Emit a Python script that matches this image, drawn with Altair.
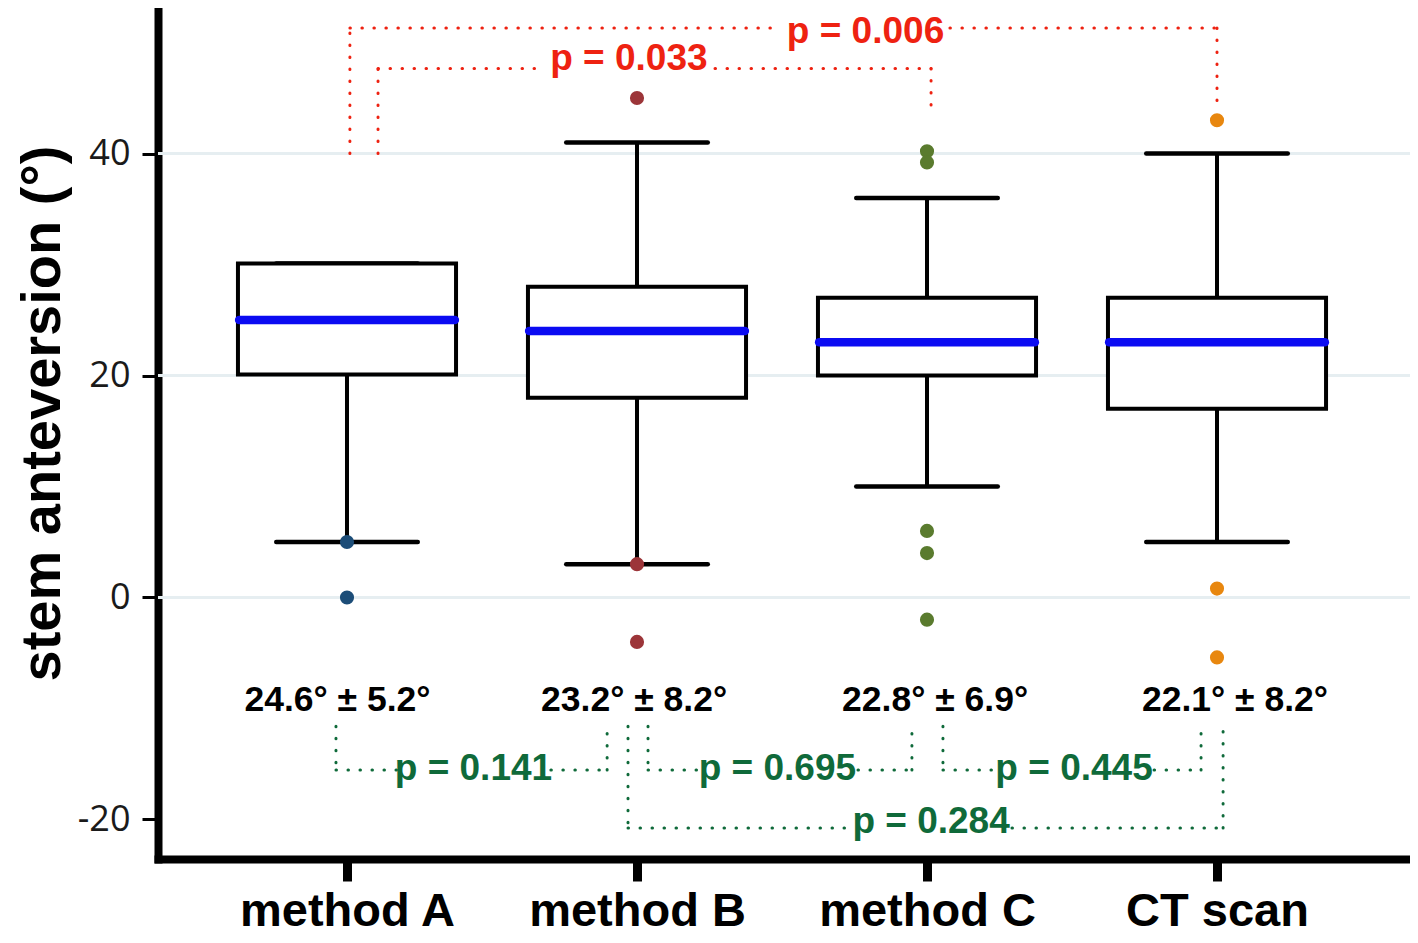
import altair as alt
import pandas as pd

# ---------------- data ----------------
categories = ["method A", "method B", "method C", "CT scan"]
positions = [1, 2, 3, 4]
q1 = [20.1, 18.0, 20.0, 17.0]
median = [25.0, 24.0, 23.0, 23.0]
q3 = [30.1, 28.0, 27.0, 27.0]
whisker_low = [5.0, 3.0, 10.0, 5.0]
whisker_high = [30.1, 41.0, 36.0, 40.0]
outlier_colors = ["#1c4d78", "#9c3539", "#5a7b2e", "#e8870f"]
outliers_a = [5.0, 0.0]
outliers_b = [45.0, 3.0, -4.0]
outliers_c = [40.2, 39.2, 6.0, 4.0, -2.0]
outliers_ct = [43.0, 0.8, -5.4]
mean_labels = ["24.6° ± 5.2°", "23.2° ± 8.2°", "22.8° ± 6.9°", "22.1° ± 8.2°"]
mean_label_x = [0.967, 1.990, 3.028, 4.062]
mean_label_y = [-10.2, -10.2, -10.2, -10.2]
grid_values = [0, 20, 40]
y_ticks = [-20, 0, 20, 40]

# significance brackets
p_labels = ["p = 0.006", "p = 0.033", "p = 0.141", "p = 0.695", "p = 0.445", "p = 0.284"]
p_colors = ["#ee2211", "#ee2211", "#0f6a3a", "#0f6a3a", "#0f6a3a", "#0f6a3a"]
bracket_left_x = [1.010, 1.107, 0.962, 2.038, 3.055, 1.969]
bracket_right_x = [4.000, 3.014, 1.897, 2.948, 3.945, 4.021]
bracket_left_y = [40.0, 40.0, -11.6, -11.6, -11.6, -11.6]
bracket_right_y = [43.9, 43.5, -11.6, -11.6, -11.6, -11.2]
bracket_bar_y = [51.3, 47.65, -15.55, -15.55, -15.55, -20.76]
gap_start = [2.493, 1.666, 1.172, 2.224, 3.224, 2.724]
gap_end = [3.079, 2.269, 1.703, 2.762, 3.783, 3.293]
p_text_x = [2.788, 1.972, 1.436, 2.484, 3.507, 3.014]
p_text_y = [50.0, 47.52, -16.44, -16.44, -16.44, -21.2]

# ---------------- tables ----------------
BOX_HALF = 0.376
MED_HALF = 0.372
CAP_HALF = 0.244

boxes = pd.DataFrame({
    "pos": positions, "q1": q1, "med": median, "q3": q3,
    "lo": whisker_low, "hi": whisker_high,
})
boxes["bx1"] = boxes["pos"] - BOX_HALF
boxes["bx2"] = boxes["pos"] + BOX_HALF
boxes["mx1"] = boxes["pos"] - MED_HALF
boxes["mx2"] = boxes["pos"] + MED_HALF
boxes["cx1"] = boxes["pos"] - CAP_HALF
boxes["cx2"] = boxes["pos"] + CAP_HALF

caps = pd.concat([
    boxes[["cx1", "cx2"]].assign(y=boxes["lo"]),
    boxes[["cx1", "cx2"]].assign(y=boxes["hi"]),
])

out_rows = []
for pos, col, vals in zip(positions, outlier_colors,
                          [outliers_a, outliers_b, outliers_c, outliers_ct]):
    for v in vals:
        out_rows.append({"pos": pos, "y": v, "color": col})
outliers = pd.DataFrame(out_rows)

seg_rows = []
for i in range(len(p_labels)):
    c = p_colors[i]
    lx, rx, by = bracket_left_x[i], bracket_right_x[i], bracket_bar_y[i]
    seg_rows += [
        {"x": lx, "x2": lx, "y": bracket_left_y[i], "y2": by, "color": c},
        {"x": lx, "x2": gap_start[i], "y": by, "y2": by, "color": c},
        {"x": gap_end[i], "x2": rx, "y": by, "y2": by, "color": c},
        {"x": rx, "x2": rx, "y": by, "y2": bracket_right_y[i], "color": c},
    ]
segments = pd.DataFrame(seg_rows)

ptext = pd.DataFrame({"x": p_text_x, "y": p_text_y, "label": p_labels, "color": p_colors})
mtext = pd.DataFrame({"x": mean_label_x, "y": mean_label_y, "label": mean_labels})
grid = pd.DataFrame({"y": grid_values})

# ---------------- scales / axes ----------------
xscale = alt.Scale(domain=[0.3483, 4.6655], nice=False, zero=False)
yscale = alt.Scale(domain=[-23.56, 53.11], nice=False, zero=False)

label_expr = "[" + ",".join("'%s'" % c for c in categories) + "][datum.value - 1]"

x_axis = alt.Axis(
    values=positions, labelExpr=label_expr, title=None, grid=False,
    domainColor="black", domainWidth=8, domainCap="square",
    tickColor="black", tickWidth=9, tickSize=22,
    labelFont="Liberation Sans", labelFontWeight="bold", labelFontSize=47,
    labelColor="black", labelPadding=7, labelLimit=0,
    labelFlush=False, labelOverlap=False,
)
y_axis = alt.Axis(
    values=y_ticks, labelExpr="'' + datum.value", title="stem anteversion (°)",
    grid=False, domainColor="black", domainWidth=8, domainCap="square",
    tickColor="black", tickWidth=3, tickSize=16,
    labelFont="Open Sans", labelFontSize=36, labelColor="#1a1a1a",
    labelPadding=12, labelFlush=False, labelOverlap=False,
    titleFont="Liberation Sans", titleFontWeight="bold", titleFontSize=56,
    titleColor="black", titleX=-99, titleY=405, titleAngle=270,
    titleAlign="center", titleBaseline="alphabetic", titleLimit=0,
)


def X(field):
    return alt.X(field, scale=xscale, axis=x_axis)


def Y(field):
    return alt.Y(field, scale=yscale, axis=y_axis)


# ---------------- layers ----------------
whisk = alt.Chart(boxes).mark_rule(color="black", strokeWidth=4).encode(
    x=X("pos:Q"), y=Y("lo:Q"), y2="hi:Q",
)

grid_layer = alt.Chart(grid).mark_rule(color="#e6eef1", strokeWidth=3).encode(
    y=Y("y:Q")
)

cap_layer = alt.Chart(caps).mark_rule(color="black", strokeWidth=4.5, strokeCap="round").encode(
    x=X("cx1:Q"), x2="cx2:Q", y=Y("y:Q"),
)

box_layer = alt.Chart(boxes).mark_rect(fill="white", stroke="black", strokeWidth=4).encode(
    x=X("bx1:Q"), x2="bx2:Q", y=Y("q1:Q"), y2="q3:Q",
)

med_layer = alt.Chart(boxes).mark_rule(color="#0b0bf2", strokeWidth=8.5, strokeCap="round").encode(
    x=X("mx1:Q"), x2="mx2:Q", y=Y("med:Q"),
)

out_layer = alt.Chart(outliers).mark_circle(size=200, opacity=1).encode(
    x=X("pos:Q"), y=Y("y:Q"),
    color=alt.Color("color:N", scale=None),
)

seg_layer = alt.Chart(segments).mark_rule(
    strokeWidth=3, strokeDash=[0.5, 11.5], strokeCap="round"
).encode(
    x=X("x:Q"), x2="x2:Q", y=Y("y:Q"), y2="y2:Q",
    color=alt.Color("color:N", scale=None),
)

ptext_layer = alt.Chart(ptext).mark_text(
    font="Liberation Sans", fontWeight="bold", fontSize=37,
    align="center", baseline="alphabetic",
).encode(
    x=X("x:Q"), y=Y("y:Q"), text="label:N",
    color=alt.Color("color:N", scale=None),
)

mtext_layer = alt.Chart(mtext).mark_text(
    font="Liberation Sans", fontWeight="bold", fontSize=35.5,
    align="center", baseline="alphabetic", color="black",
).encode(
    x=X("x:Q"), y=Y("y:Q"), text="label:N",
)

chart = alt.layer(
    grid_layer, whisk, cap_layer, box_layer, med_layer, out_layer,
    seg_layer, ptext_layer, mtext_layer,
).properties(
    width=1252, height=851,
    autosize=alt.AutoSizeParams(type="none"),
    padding={"left": 150, "top": 0, "right": 0, "bottom": 76},
    background="white",
).configure_view(stroke=None)

chart.save("out.html", embed_options={"renderer": "svg", "actions": False})
